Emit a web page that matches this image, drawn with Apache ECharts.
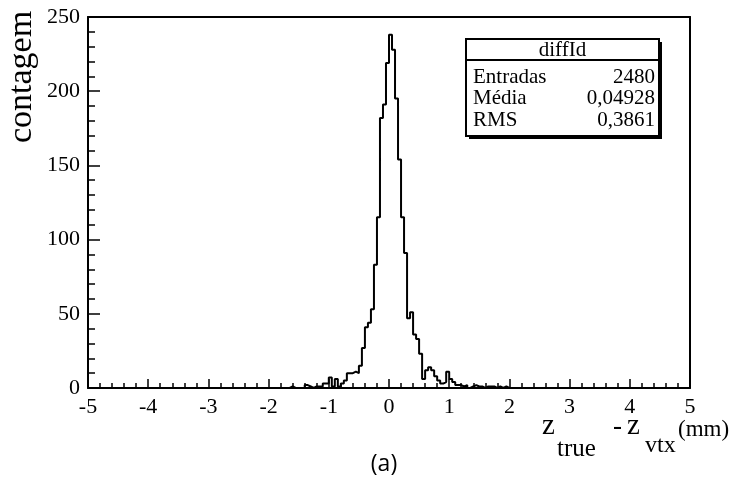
<!DOCTYPE html>
<html>
<head>
<meta charset="utf-8">
<script src="https://cdn.jsdelivr.net/npm/echarts@6/dist/echarts.min.js"></script>
<style>
  html, body { margin: 0; padding: 0; background: #fff; }
  #chart { width: 741px; height: 486px; }
</style>
</head>
<body>
<div id="chart"></div>
<script>
// histogram definition: 200 bins from -5 to 5 mm
const binStart = -5;
const binWidth = 0.05;
const counts = [
  0, 0, 0, 0, 0, 0, 0, 0, 0, 0, 0, 0, 0, 0, 0, 0, 0, 0, 0, 0,
  0, 0, 0, 0, 0, 0, 0, 0, 0, 0, 0, 0, 0, 0, 0, 0, 0, 0, 0, 0,
  0, 0, 0, 0, 0, 0, 0, 0, 0, 0, 0, 0, 0, 0, 0, 0, 0, 0, 0, 0,
  0, 0, 0, 0, 0, 0, 0, 1, 0, 0, 0, 0, 2, 1, 0, 1, 1, 1, 3, 3,
  7, 1, 6, 1, 3, 5, 10, 10, 11, 10, 15, 27, 41, 44, 53, 83, 115, 182, 191, 219,
  238, 228, 195, 154, 115, 91, 47, 51, 36, 33, 23, 6, 12, 14, 12, 8, 5, 3, 4, 11,
  6, 4, 2, 2, 1, 2, 0, 1, 2, 1, 1, 0, 1, 1, 1, 0, 1, 0, 1, 0,
  0, 0, 0, 0, 0, 0, 0, 0, 0, 0, 0, 0, 0, 0, 0, 0, 0, 0, 0, 0,
  0, 0, 0, 0, 0, 0, 0, 0, 0, 0, 0, 0, 0, 0, 0, 0, 0, 0, 0, 0,
  0, 0, 0, 0, 0, 0, 0, 0, 0, 0, 0, 0, 0, 0, 0, 0, 0, 0, 0, 0
];
const statsTitle = 'diffId';
const statsRows = [
  ['Entradas', '2480'],
  ['Média', '0,04928'],
  ['RMS', '0,3861']
];

const serif = 'Liberation Serif';

// step outline: one point per bin left edge, plus the closing right edge
const stepData = counts.map((c, k) => [+(binStart + k * binWidth).toFixed(2), c]);
stepData.push([+(binStart + counts.length * binWidth).toFixed(2), counts[counts.length - 1]]);

const chart = echarts.init(document.getElementById('chart'), null, { renderer: 'canvas' });

// stats box (ROOT style, with a shadow)
const box = { x: 466, y: 39, w: 193, h: 97, head: 21, row: 21.5 };
const statsGraphic = [
  { type: 'rect', shape: { x: box.x + 3, y: box.y + 3, width: box.w, height: box.h },
    style: { fill: '#000' } },
  { type: 'rect', shape: { x: box.x, y: box.y, width: box.w, height: box.h },
    style: { fill: '#fff', stroke: '#000', lineWidth: 2 } },
  { type: 'line', shape: { x1: box.x, y1: box.y + box.head, x2: box.x + box.w, y2: box.y + box.head },
    style: { stroke: '#000', lineWidth: 2 } },
  { type: 'text', x: box.x + box.w / 2, y: box.y + box.head / 2 + 1,
    style: { text: statsTitle, font: '21px ' + serif, fill: '#000', align: 'center', verticalAlign: 'middle' } }
];
statsRows.forEach((r, i) => {
  const cy = box.y + box.head + 17 + i * box.row;
  statsGraphic.push({ type: 'text', x: box.x + 7, y: cy,
    style: { text: r[0], font: '21px ' + serif, fill: '#000', align: 'left', verticalAlign: 'middle' } });
  statsGraphic.push({ type: 'text', x: box.x + box.w - 4, y: cy,
    style: { text: r[1], font: '21px ' + serif, fill: '#000', align: 'right', verticalAlign: 'middle' } });
});

// text placed by its baseline (bottom of the em box sits ~0.22em below it)
function baseText(str, x, baseline, size, family) {
  return { type: 'text', x: x, y: baseline + Math.round(size * 0.22),
    style: { text: str, font: size + 'px ' + (family || serif), fill: '#000', align: 'left', verticalAlign: 'bottom' } };
}

// axis titles
const titleGraphic = [
  { type: 'text', x: 22, y: 77, rotation: Math.PI / 2,
    style: { text: 'contagem', font: '34px ' + serif, fill: '#000', align: 'center', verticalAlign: 'middle' } },
  baseText('z', 542, 435, 29),
  baseText('true', 557, 456, 25),
  baseText('-', 613, 434, 27),
  baseText('z', 627, 435, 29),
  baseText('vtx', 645, 453, 24),
  baseText('(mm)', 678, 436, 23),
  { type: 'text', x: 384, y: 464,
    style: { text: '(a)', font: '23px "Open Sans"', fill: '#000', align: 'center', verticalAlign: 'middle' } }
];

const option = {
  animation: false,
  backgroundColor: '#fff',
  grid: { left: 88, right: 51, top: 17, bottom: 98, containLabel: false },
  xAxis: [{
    type: 'value', min: -5, max: 5, interval: 1,
    axisLine: { show: true, onZero: false, lineStyle: { color: '#000', width: 2 } },
    axisTick: { show: true, inside: true, length: 9, lineStyle: { color: '#000', width: 1.5 } },
    minorTick: { show: true, splitNumber: 5, length: 5, lineStyle: { color: '#000', width: 1.5 } },
    axisLabel: { color: '#000', fontFamily: serif, fontSize: 22, margin: 8 },
    splitLine: { show: false }
  }, {
    type: 'value', position: 'top', min: -5, max: 5,
    axisLine: { show: true, onZero: false, lineStyle: { color: '#000', width: 2 } },
    axisTick: { show: false }, axisLabel: { show: false }, splitLine: { show: false }
  }],
  yAxis: [{
    type: 'value', min: 0, max: 250, interval: 50,
    axisLine: { show: true, onZero: false, lineStyle: { color: '#000', width: 2 } },
    axisTick: { show: true, inside: true, length: 12, lineStyle: { color: '#000', width: 1.5 } },
    minorTick: { show: true, splitNumber: 5, length: 7, lineStyle: { color: '#000', width: 1.5 } },
    axisLabel: { color: '#000', fontFamily: serif, fontSize: 22, margin: 8 },
    splitLine: { show: false }
  }, {
    type: 'value', position: 'right', min: 0, max: 250,
    axisLine: { show: true, onZero: false, lineStyle: { color: '#000', width: 2 } },
    axisTick: { show: false }, axisLabel: { show: false }, splitLine: { show: false }
  }],
  series: [{
    type: 'line',
    step: 'end',
    data: stepData,
    symbol: 'none',
    clip: true,
    lineStyle: { color: '#000', width: 2 }
  }],
  graphic: statsGraphic.concat(titleGraphic)
};

chart.setOption(option);
</script>
</body>
</html>
